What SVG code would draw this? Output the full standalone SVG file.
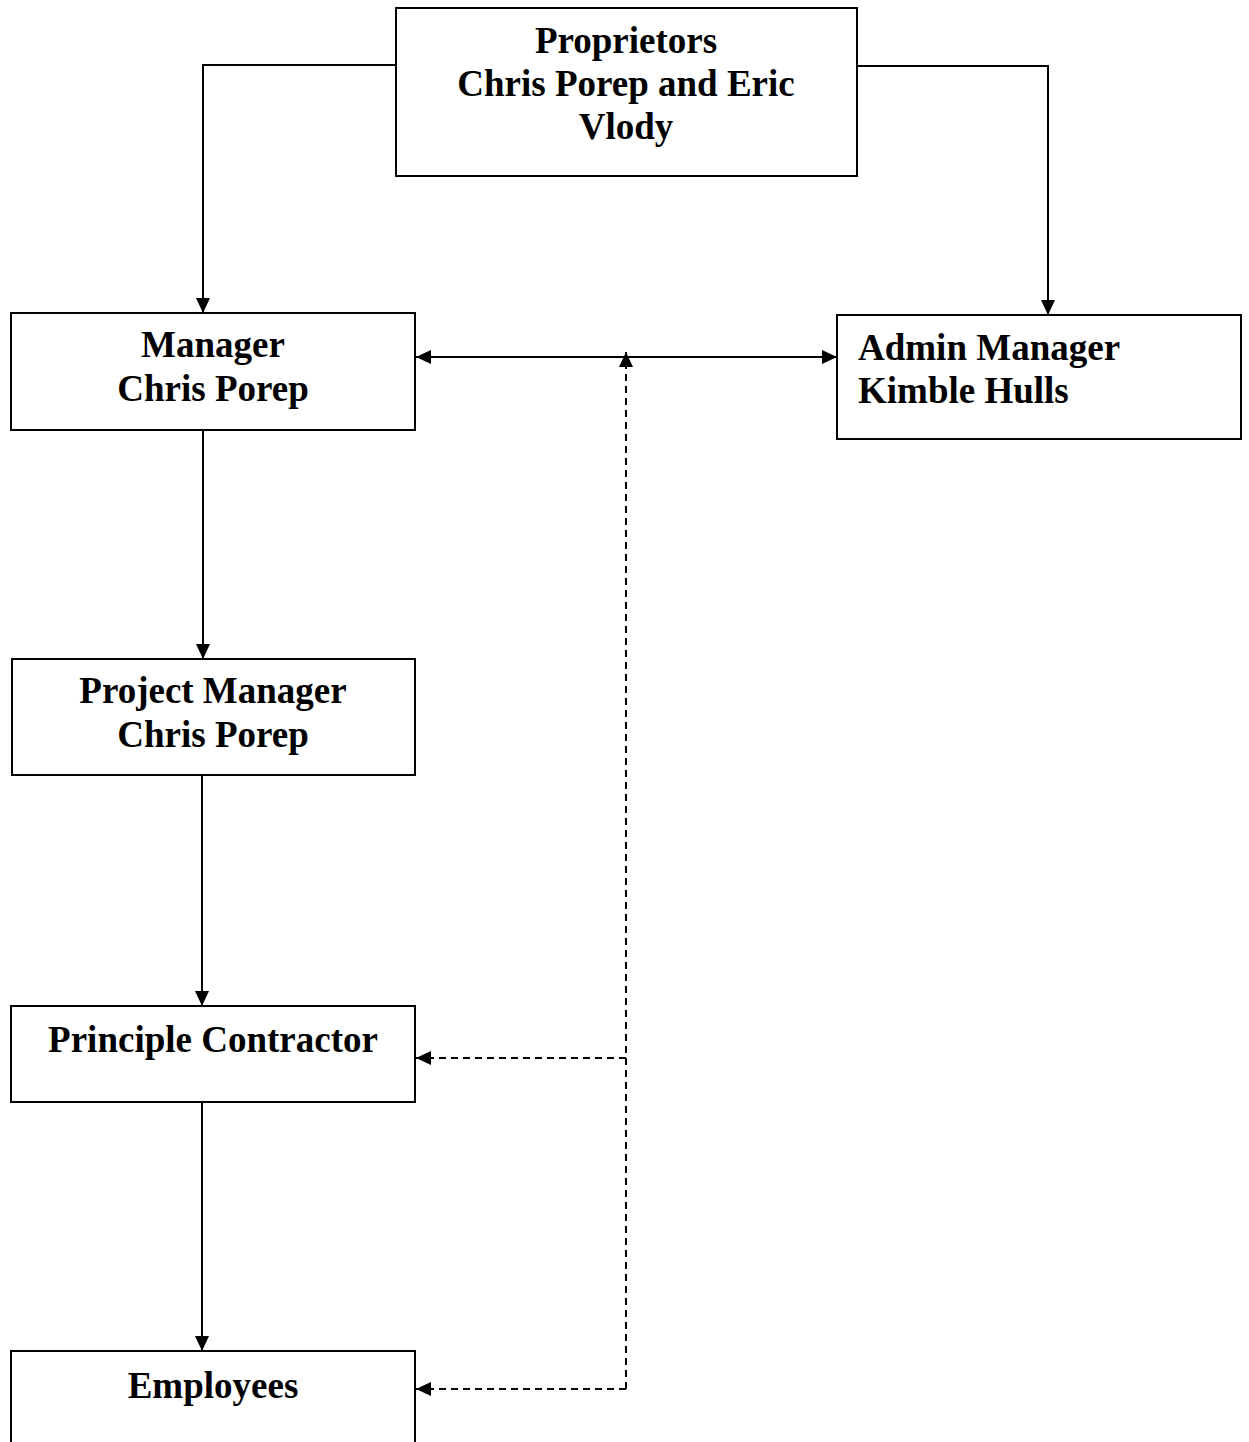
<svg xmlns="http://www.w3.org/2000/svg" width="1249" height="1442" viewBox="0 0 1249 1442">
<style>
.box{fill:#fff;stroke:#000;stroke-width:2}
.t{font-family:"Liberation Serif",serif;font-weight:bold;font-size:37px;fill:#000}
.c{text-anchor:middle}
.ln{fill:none;stroke:#000;stroke-width:2}
.d{stroke-dasharray:7,5}
</style>
<defs>
<marker id="a" viewBox="0 0 15 14" refX="15" refY="7" markerWidth="15" markerHeight="14" markerUnits="userSpaceOnUse" orient="auto-start-reverse"><path d="M0,0L15,7L0,14z" fill="#000"/></marker>
</defs>
<rect width="1249" height="1442" fill="#fff"/>
<g id="connectors">
<path class="ln" d="M396,65H203V313" marker-end="url(#a)"/>
<path class="ln" d="M857,66H1048V315" marker-end="url(#a)"/>
<path class="ln" d="M416,357H837" marker-start="url(#a)" marker-end="url(#a)"/>
<path class="ln" d="M203,430V659" marker-end="url(#a)"/>
<path class="ln" d="M202,775V1006" marker-end="url(#a)"/>
<path class="ln" d="M202,1102V1351" marker-end="url(#a)"/>
<path class="ln d" d="M626,1389V352" marker-end="url(#a)"/>
<path class="ln d" d="M626,1058H416" marker-end="url(#a)"/>
<path class="ln d" d="M626,1389H416" marker-end="url(#a)"/>
</g>
<g id="proprietors">
<rect class="box" x="396" y="8" width="461" height="168"/>
<text class="t c" x="626" y="53">Proprietors</text>
<text class="t c" x="626" y="96">Chris Porep and Eric</text>
<text class="t c" x="626" y="139">Vlody</text>
</g>
<g id="manager">
<rect class="box" x="11" y="313" width="404" height="117"/>
<text class="t c" x="213" y="357">Manager</text>
<text class="t c" x="213" y="401">Chris Porep</text>
</g>
<g id="admin">
<rect class="box" x="837" y="315" width="404" height="124"/>
<text class="t" x="858" y="360">Admin Manager</text>
<text class="t" x="858" y="403">Kimble Hulls</text>
</g>
<g id="project">
<rect class="box" x="12" y="659" width="403" height="116"/>
<text class="t c" x="213" y="703">Project Manager</text>
<text class="t c" x="213" y="747">Chris Porep</text>
</g>
<g id="principle">
<rect class="box" x="11" y="1006" width="404" height="96"/>
<text class="t c" x="213" y="1052">Principle Contractor</text>
</g>
<g id="employees">
<rect class="box" x="11" y="1351" width="404" height="120"/>
<text class="t c" x="213" y="1398">Employees</text>
</g>
</svg>
